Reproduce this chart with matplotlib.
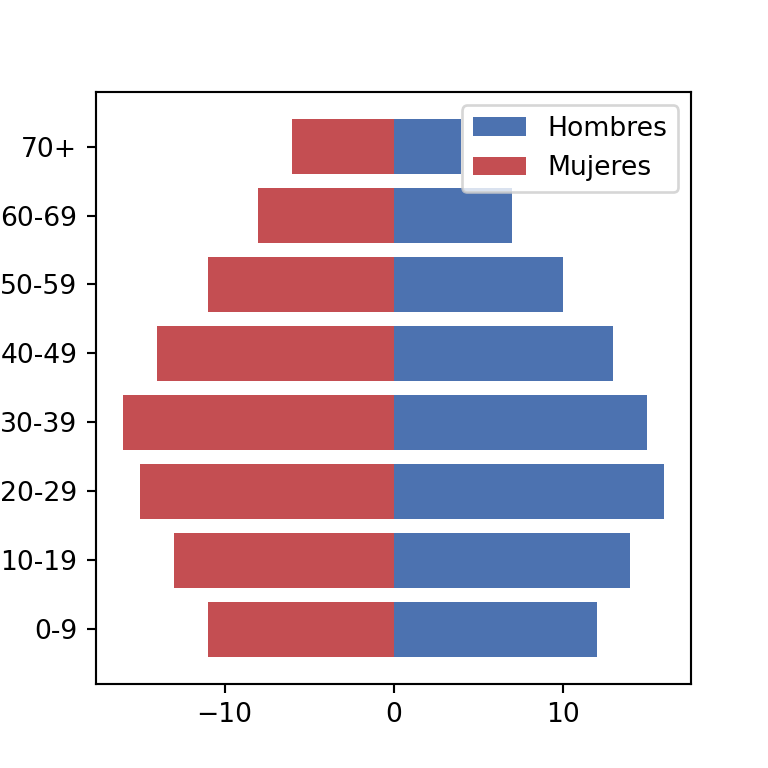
import numpy as np
import matplotlib
matplotlib.use("Agg")
import matplotlib.pyplot as plt

# Grupos de edad y valores por sexo
edades = ["0-9", "10-19", "20-29", "30-39", "40-49", "50-59", "60-69", "70+"]
hombres = [12, 14, 16, 15, 13, 10, 7, 4]
mujeres = [11, 13, 15, 16, 14, 11, 8, 6]

fig, ax = plt.subplots(figsize=(4, 4), dpi=192)

y = np.arange(len(edades))
ax.barh(y, hombres, color="#4c72b0", label="Hombres")
ax.barh(y, [-m for m in mujeres], color="#c44e52", label="Mujeres")

ax.set_yticks(y)
ax.set_yticklabels(edades)
ax.legend(loc="upper right")

fig.savefig("out.png", dpi=192)
